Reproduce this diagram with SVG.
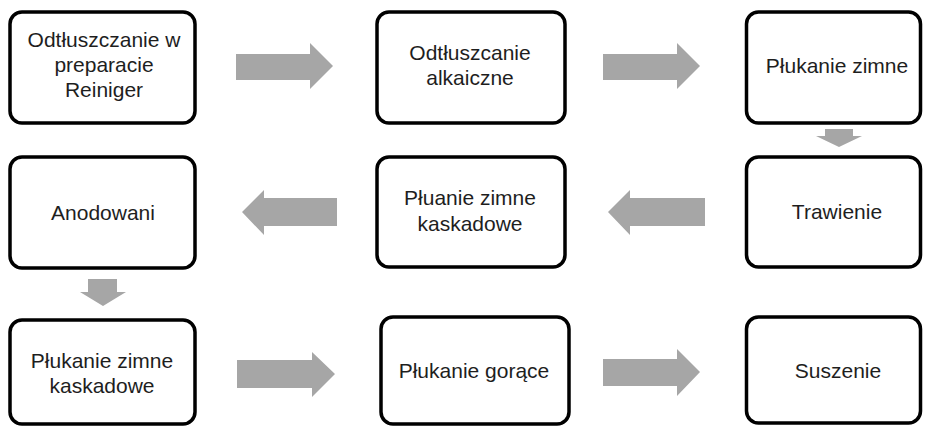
<svg xmlns="http://www.w3.org/2000/svg" width="925" height="428" viewBox="0 0 925 428">
<style>
.box{fill:#fff;stroke:#000;stroke-width:3.5}
.lbl{font-family:"Liberation Sans",Arial,sans-serif;font-size:21px;fill:#1e1e1e;text-anchor:middle}
.arr{fill:#a6a6a6}
</style>
<rect width="925" height="428" fill="#fff"/>
<g id="n1"><rect class="box" x="10" y="12" width="185" height="111" rx="12"/>
<text class="lbl" x="104" y="47">Odtłuszczanie w</text><text class="lbl" x="104" y="72">preparacie</text><text class="lbl" x="104" y="97">Reiniger</text></g>
<g id="n2"><rect class="box" x="377" y="12" width="188" height="111" rx="12"/>
<text class="lbl" x="470" y="60">Odtłuszcanie</text><text class="lbl" x="470" y="85">alkaiczne</text></g>
<g id="n3"><rect class="box" x="746.5" y="12" width="174" height="111" rx="12"/>
<text class="lbl" x="837" y="73">Płukanie zimne</text></g>
<g id="n4"><rect class="box" x="746.5" y="157" width="174" height="110" rx="12"/>
<text class="lbl" x="837" y="219">Trawienie</text></g>
<g id="n5"><rect class="box" x="377" y="157" width="188" height="110" rx="12"/>
<text class="lbl" x="470" y="205">Płuanie zimne</text><text class="lbl" x="470" y="231">kaskadowe</text></g>
<g id="n6"><rect class="box" x="10" y="157" width="185" height="111" rx="12"/>
<text class="lbl" x="103" y="220">Anodowani</text></g>
<g id="n7"><rect class="box" x="10" y="320" width="185" height="104" rx="12"/>
<text class="lbl" x="102" y="368">Płukanie zimne</text><text class="lbl" x="102" y="393">kaskadowe</text></g>
<g id="n8"><rect class="box" x="381" y="317" width="188" height="107" rx="12"/>
<text class="lbl" x="474" y="378">Płukanie gorące</text></g>
<g id="n9"><rect class="box" x="746.5" y="317" width="174" height="106" rx="12"/>
<text class="lbl" x="838" y="378">Suszenie</text></g>
<g id="connectors">
<polygon class="arr" points="236,54 310,54 310,43 333,66 310,89 310,80 236,80"/>
<polygon class="arr" points="603,54 677,54 677,43 700,66 677,89 677,80 603,80"/>
<polygon class="arr" points="825,129 853,129 853,136 862,136 839,147 816,136 825,136"/>
<polygon class="arr" points="705,198 630,198 630,190 608,212 630,235 630,226 705,226"/>
<polygon class="arr" points="337,198 264,198 264,190 242,212 264,235 264,226 337,226"/>
<polygon class="arr" points="88,279 117,279 117,292 126,292 103,306 80,292 88,292"/>
<polygon class="arr" points="237,360 312,360 312,352 335,374 312,397 312,388 237,388"/>
<polygon class="arr" points="603,359 677,359 677,349 700,372 677,396 677,386 603,386"/>
</g>
</svg>
